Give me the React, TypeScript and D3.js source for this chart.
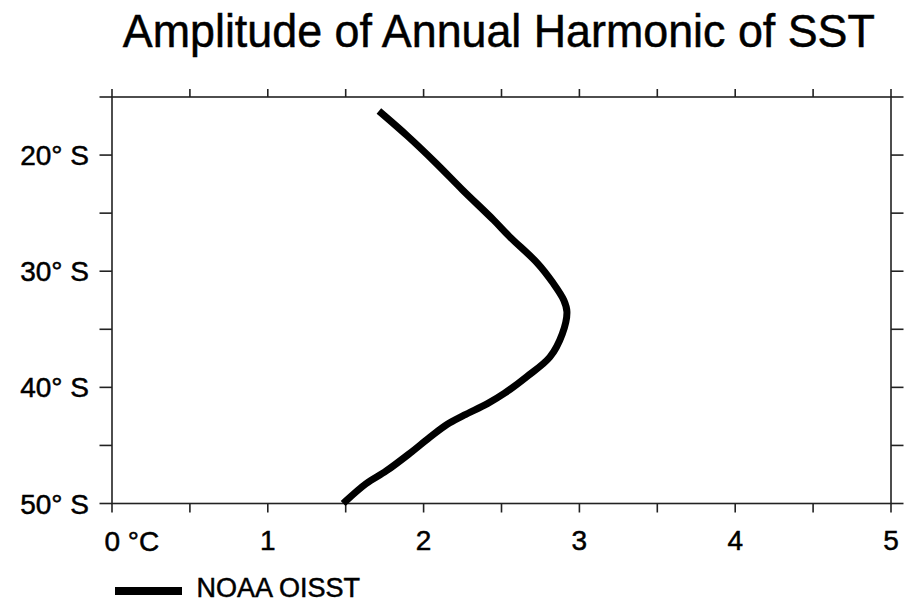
import React from "react";
import * as d3 from "d3";

const title = "Amplitude of Annual Harmonic of SST";
const seriesName = "NOAA OISST";

// Latitude (degrees south) and amplitude (°C)
const latitudes = [16.4, 18.4, 20.7, 23.0, 25.6, 27.0, 29.3, 31.0, 32.5, 33.5, 35.4, 37.4, 39.1, 40.5, 41.4, 42.4, 43.2, 44.3, 45.7, 47.2, 48.3, 49.8];
const amplitudes = [1.73, 1.90, 2.08, 2.25, 2.45, 2.55, 2.73, 2.83, 2.90, 2.92, 2.89, 2.81, 2.66, 2.52, 2.41, 2.26, 2.15, 2.04, 1.91, 1.76, 1.63, 1.50];

const xTicks = [0, 0.5, 1, 1.5, 2, 2.5, 3, 3.5, 4, 4.5, 5];
const xLabels = [0, 1, 2, 3, 4, 5];
const yTicks = [15, 20, 25, 30, 35, 40, 45, 50];
const yLabels = [20, 30, 40, 50];

const W = 907;
const H = 604;
const left = 112;
const right = 891;
const top = 97;
const bottom = 503.5;

export default function App() {
  const x = d3.scaleLinear().domain([0, 5]).range([left, right]);
  const y = d3.scaleLinear().domain([15, 50]).range([top, bottom]);
  const pts: [number, number][] = latitudes.map((lat, i) => [amplitudes[i], lat]);
  const line = d3
    .line<[number, number]>()
    .x((d) => x(d[0]))
    .y((d) => y(d[1]))
    .curve(d3.curveCatmullRom.alpha(0.5));
  const font = "'Liberation Sans', Arial, Helvetica, sans-serif";
  const axisColor = "#222";
  const ts = { stroke: "#000", strokeWidth: 0.5 };
  return (
    <svg
      width={W}
      height={H}
      style={{ position: "absolute", left: 0, top: 0, background: "#fff" }}
      fontFamily={font}
    >
      <rect x={0} y={0} width={W} height={H} fill="#fff" />
      <text x={(122.7 + 875) / 2} y={47} textAnchor="middle" fontSize={46} fill="#000" textLength={752} lengthAdjust="spacingAndGlyphs" {...ts}>
        {title}
      </text>
      {/* frame */}
      <rect x={left} y={top} width={right - left} height={bottom - top} fill="none" stroke={axisColor} strokeWidth={1.6} />
      {/* x ticks */}
      {xTicks.map((t) => (
        <g key={"xt" + t}>
          <line x1={x(t)} x2={x(t)} y1={top} y2={top - 8} stroke={axisColor} strokeWidth={1.6} />
          <line x1={x(t)} x2={x(t)} y1={bottom} y2={bottom + 9} stroke={axisColor} strokeWidth={1.6} />
        </g>
      ))}
      {/* y ticks */}
      {yTicks.map((t) => (
        <g key={"yt" + t}>
          <line x1={left} x2={left - 12.5} y1={y(t)} y2={y(t)} stroke={axisColor} strokeWidth={1.6} />
          <line x1={right} x2={right + 12.5} y1={y(t)} y2={y(t)} stroke={axisColor} strokeWidth={1.6} />
        </g>
      ))}
      {/* x labels */}
      {xLabels.map((t) =>
        t === 0 ? (
          <text key={"xl" + t} x={x(t) - 7.5} y={551} fontSize={28} fill="#000" {...ts}>
            {"0 °C"}
          </text>
        ) : (
          <text key={"xl" + t} x={x(t)} y={550} textAnchor="middle" fontSize={28} fill="#000" {...ts}>
            {String(t)}
          </text>
        )
      )}
      {/* y labels */}
      {yLabels.map((t) => (
        <text key={"yl" + t} x={89} y={y(t)} dy="0.36em" textAnchor="end" fontSize={28} fill="#000" {...ts}>
          {t + "° S"}
        </text>
      ))}
      {/* data line */}
      <path d={line(pts) || ""} fill="none" stroke="#000" strokeWidth={7} strokeLinecap="square" strokeLinejoin="round" />
      {/* legend */}
      <line x1={115} x2={182} y1={591} y2={591} stroke="#000" strokeWidth={8} />
      <text x={196.5} y={597} fontSize={27} fill="#000" {...ts}>
        {seriesName}
      </text>
    </svg>
  );
}
